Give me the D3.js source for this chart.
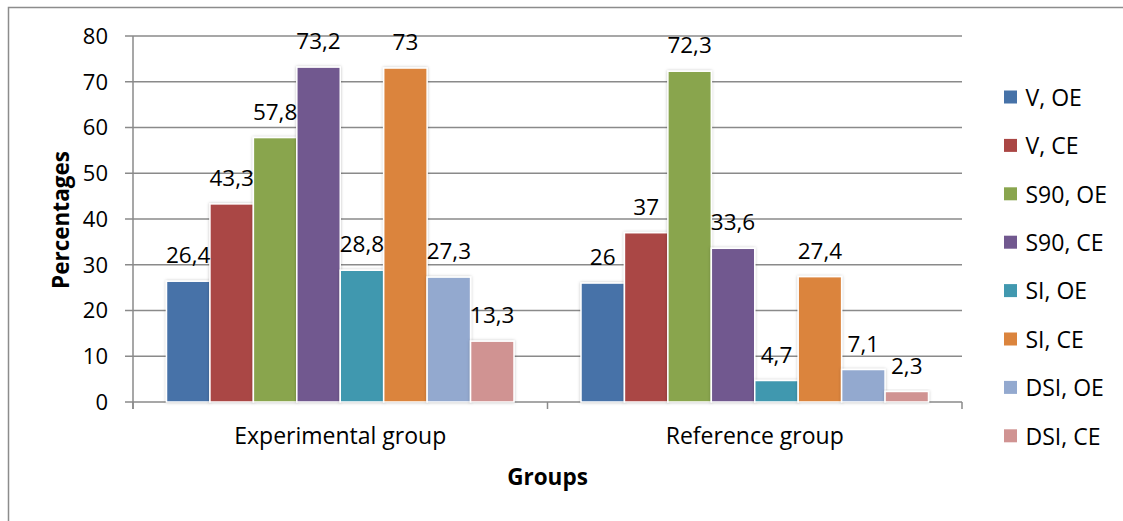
<!DOCTYPE html>
<html><head><meta charset="utf-8">
<script src="https://cdn.jsdelivr.net/npm/d3@7"></script>
<style>body{margin:0;background:#fff}svg{display:block}text{font-family:"Open Sans",sans-serif;fill:#000}</style>
</head><body><svg id="c" width="1123" height="521"></svg>
<script>
const groups = ["Experimental group", "Reference group"];
const seriesNames = ["V, OE", "V, CE", "S90, OE", "S90, CE", "SI, OE", "SI, CE", "DSI, OE", "DSI, CE"];
const seriesColors = ["#4672a8", "#aa4644", "#89a54e", "#71588f", "#4198af", "#db843d", "#93a9cf", "#d09392"];
const experimental = [26.4, 43.3, 57.8, 73.2, 28.8, 73, 27.3, 13.3];
const reference = [26, 37, 72.3, 33.6, 4.7, 27.4, 7.1, 2.3];
const yTicks = [0, 10, 20, 30, 40, 50, 60, 70, 80];
const values = [experimental, reference];

const svg = d3.select("#c");
const L = 133, R = 962, T = 36, B = 402;

svg.append("rect").attr("x", 8.5).attr("y", 7.5).attr("width", 1130).attr("height", 530)
  .attr("fill", "none").attr("stroke", "#8c8c8c").attr("stroke-width", 1.5);

const x0 = d3.scaleBand().domain(groups).range([L, R]).paddingInner(0).paddingOuter(0);
const x1 = d3.scaleBand().domain(seriesNames).range([33.5, x0.bandwidth() - 33.5]).padding(0);
const y = d3.scaleLinear().domain([0, 80]).range([B, T]);

// gridlines
svg.append("g").selectAll("line").data(yTicks).join("line")
  .attr("x1", L - 8).attr("x2", R).attr("y1", d => y(d)).attr("y2", d => y(d))
  .attr("stroke", "#8a8a8a").attr("stroke-width", 1.5);
// y axis line
svg.append("line").attr("x1", L).attr("x2", L).attr("y1", T).attr("y2", B + 7)
  .attr("stroke", "#8a8a8a").attr("stroke-width", 1.5);
// x tick marks
const xt = [L, x0(groups[1]), R];
svg.append("g").selectAll("line").data(xt).join("line")
  .attr("x1", d => d).attr("x2", d => d).attr("y1", B).attr("y2", B + 7)
  .attr("stroke", "#8a8a8a").attr("stroke-width", 1.5);

// y tick labels
svg.append("g").selectAll("text").data(yTicks).join("text")
  .attr("x", 108).attr("y", d => y(d)).attr("dy", "0.36em").attr("text-anchor", "end")
  .attr("font-size", 22).text(d => d);

// bars
const defs = svg.append("defs");
const f = defs.append("filter").attr("id", "sh").attr("x", "-20%").attr("y", "-20%").attr("width", "140%").attr("height", "140%");
f.append("feDropShadow").attr("dx", 0).attr("dy", 0).attr("stdDeviation", 1.5).attr("flood-color", "#000").attr("flood-opacity", 0.25);

groups.forEach((g, gi) => {
  const gg = svg.append("g").attr("transform", `translate(${x0(g)},0)`);
  gg.selectAll("rect").data(values[gi]).join("rect")
    .attr("x", (d, i) => x1(seriesNames[i]))
    .attr("y", d => y(d))
    .attr("width", x1.bandwidth())
    .attr("height", d => B - y(d))
    .attr("fill", (d, i) => seriesColors[i])
    .attr("stroke", "#fff").attr("stroke-width", 1.5)
    .attr("filter", "url(#sh)");
  gg.selectAll("text").data(values[gi]).join("text")
    .attr("x", (d, i) => x1(seriesNames[i]) + x1.bandwidth() / 2)
    .attr("y", d => y(d) - 26).attr("dy", "0.36em")
    .attr("text-anchor", "middle").attr("font-size", 22.5)
    .text(d => String(d).replace(".", ","));
});

// category labels
svg.append("g").selectAll("text").data(groups).join("text")
  .attr("x", d => x0(d) + x0.bandwidth() / 2).attr("y", 436).attr("dy", "0.36em")
  .attr("text-anchor", "middle").attr("font-size", 23).text(d => d);

// axis titles
svg.append("text").attr("x", (L + R) / 2).attr("y", 476.5).attr("dy", "0.36em")
  .attr("text-anchor", "middle").attr("font-size", 22.5).attr("font-weight", "bold").text("Groups");
svg.append("text").attr("transform", `translate(61,220) rotate(-90)`).attr("dy", "0.36em")
  .attr("text-anchor", "middle").attr("font-size", 22.5).attr("font-weight", "bold").text("Percentages");

// legend
const lg = svg.append("g").selectAll("g").data(seriesNames).join("g")
  .attr("transform", (d, i) => `translate(1004,${97 + i * 48.4})`);
lg.append("rect").attr("x", 0).attr("y", -6.5).attr("width", 13).attr("height", 13)
  .attr("fill", (d, i) => seriesColors[i]);
lg.append("text").attr("x", 21.5).attr("y", 0.5).attr("dy", "0.36em").attr("font-size", 23).text(d => d);
</script></body></html>
